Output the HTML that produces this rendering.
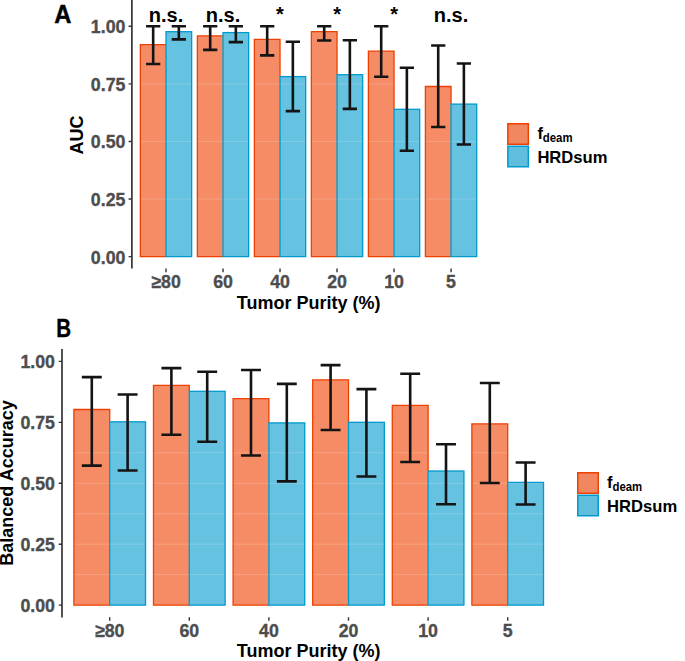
<!DOCTYPE html>
<html><head><meta charset="utf-8"><title>AUC and Balanced Accuracy by Tumor Purity</title>
<style>
html,body{margin:0;padding:0;background:#fff;}
svg{display:block;}
text{font-family:"Liberation Sans",sans-serif;font-weight:bold;}
.tk{font-size:18.5px;fill:#4D4D4D;stroke:#4D4D4D;stroke-width:0.35px;}
.ti{font-size:18px;fill:#000;}
.tag{font-size:25px;fill:#000;stroke:#000;stroke-width:0.4px;}
.lg{font-size:16.6px;fill:#000;}
.sub{font-size:12px;fill:#000;}
.sig{font-size:20px;fill:#000;}
</style></head>
<body>
<svg width="685" height="661" viewBox="0 0 685 661">
<rect x="0" y="0" width="685" height="661" fill="#fff"/>
<rect x="140.35" y="44.70" width="25.65" height="211.90" fill="#F58C66"/>
<rect x="166.00" y="31.70" width="25.65" height="224.90" fill="#66C2E1"/>
<rect x="197.36" y="35.90" width="25.65" height="220.70" fill="#F58C66"/>
<rect x="223.01" y="32.60" width="25.65" height="224.00" fill="#66C2E1"/>
<rect x="254.37" y="39.30" width="25.65" height="217.30" fill="#F58C66"/>
<rect x="280.02" y="76.60" width="25.65" height="180.00" fill="#66C2E1"/>
<rect x="311.38" y="31.70" width="25.65" height="224.90" fill="#F58C66"/>
<rect x="337.03" y="74.70" width="25.65" height="181.90" fill="#66C2E1"/>
<rect x="368.39" y="51.10" width="25.65" height="205.50" fill="#F58C66"/>
<rect x="394.04" y="109.30" width="25.65" height="147.30" fill="#66C2E1"/>
<rect x="425.40" y="86.50" width="25.65" height="170.10" fill="#F58C66"/>
<rect x="451.05" y="104.10" width="25.65" height="152.50" fill="#66C2E1"/>
<g stroke="#ffffff" stroke-opacity="0.18" stroke-width="1"><line x1="132.90" x2="480.00" y1="199.01" y2="199.01" /><line x1="132.90" x2="480.00" y1="141.43" y2="141.43" /><line x1="132.90" x2="480.00" y1="83.84" y2="83.84" /></g>
<path d="M166.00 256.60H140.35V44.70H166.00" fill="none" stroke="#EE4000" stroke-width="1.3"/>
<rect x="166.00" y="31.70" width="25.65" height="224.90" fill="none" stroke="#009ACD" stroke-width="1.3"/>
<path d="M223.01 256.60H197.36V35.90H223.01" fill="none" stroke="#EE4000" stroke-width="1.3"/>
<rect x="223.01" y="32.60" width="25.65" height="224.00" fill="none" stroke="#009ACD" stroke-width="1.3"/>
<path d="M280.02 256.60H254.37V39.30H280.02V76.60" fill="none" stroke="#EE4000" stroke-width="1.3"/>
<rect x="280.02" y="76.60" width="25.65" height="180.00" fill="none" stroke="#009ACD" stroke-width="1.3"/>
<path d="M337.03 256.60H311.38V31.70H337.03V74.70" fill="none" stroke="#EE4000" stroke-width="1.3"/>
<rect x="337.03" y="74.70" width="25.65" height="181.90" fill="none" stroke="#009ACD" stroke-width="1.3"/>
<path d="M394.04 256.60H368.39V51.10H394.04V109.30" fill="none" stroke="#EE4000" stroke-width="1.3"/>
<rect x="394.04" y="109.30" width="25.65" height="147.30" fill="none" stroke="#009ACD" stroke-width="1.3"/>
<path d="M451.05 256.60H425.40V86.50H451.05V104.10" fill="none" stroke="#EE4000" stroke-width="1.3"/>
<rect x="451.05" y="104.10" width="25.65" height="152.50" fill="none" stroke="#009ACD" stroke-width="1.3"/>
<path d="M146.05 26.25H160.30M153.17 26.25V64.05M146.05 64.05H160.30M171.70 26.30H185.95M178.83 26.30V39.40M171.70 39.40H185.95M203.06 26.30H217.31M210.18 26.30V49.90M203.06 49.90H217.31M228.71 26.30H242.96M235.84 26.30V42.10M228.71 42.10H242.96M260.07 26.30H274.32M267.19 26.30V55.40M260.07 55.40H274.32M285.72 41.80H299.97M292.85 41.80V111.10M285.72 111.10H299.97M317.08 26.30H331.33M324.20 26.30V40.50M317.08 40.50H331.33M342.73 40.30H356.98M349.86 40.30V108.90M342.73 108.90H356.98M374.09 26.30H388.34M381.21 26.30V76.70M374.09 76.70H388.34M399.74 67.80H413.99M406.87 67.80V150.80M399.74 150.80H413.99M431.10 45.50H445.35M438.22 45.50V127.00M431.10 127.00H445.35M456.75 63.50H471.00M463.88 63.50V144.50M456.75 144.50H471.00" stroke="#141414" stroke-width="2.6" fill="none"/>
<line x1="131.90" x2="131.90" y1="0.00" y2="268.60" stroke="#1a1a1a" stroke-width="1.5"/>
<path d="M128.60 256.60H131.90M128.60 199.01H131.90M128.60 141.43H131.90M128.60 83.84H131.90M128.60 26.25H131.90M166.00 268.60V272.20M223.01 268.60V272.20M280.02 268.60V272.20M337.03 268.60V272.20M394.04 268.60V272.20M451.05 268.60V272.20" stroke="#333333" stroke-width="1.4"/>
<text transform="translate(125.40 263.50) scale(0.96 1)" text-anchor="end" class="tk">0.00</text>
<text transform="translate(125.40 205.91) scale(0.96 1)" text-anchor="end" class="tk">0.25</text>
<text transform="translate(125.40 148.33) scale(0.96 1)" text-anchor="end" class="tk">0.50</text>
<text transform="translate(125.40 90.74) scale(0.96 1)" text-anchor="end" class="tk">0.75</text>
<text transform="translate(125.40 33.15) scale(0.96 1)" text-anchor="end" class="tk">1.00</text>
<text transform="translate(166.00 288.10) scale(0.96 1)" text-anchor="middle" class="tk">≥80</text>
<text transform="translate(223.01 288.10) scale(0.96 1)" text-anchor="middle" class="tk">60</text>
<text transform="translate(280.02 288.10) scale(0.96 1)" text-anchor="middle" class="tk">40</text>
<text transform="translate(337.03 288.10) scale(0.96 1)" text-anchor="middle" class="tk">20</text>
<text transform="translate(394.04 288.10) scale(0.96 1)" text-anchor="middle" class="tk">10</text>
<text transform="translate(451.05 288.10) scale(0.96 1)" text-anchor="middle" class="tk">5</text>
<text x="308.60" y="309.10" text-anchor="middle" class="ti">Tumor Purity (%)</text>
<text transform="translate(83.00 135.00) rotate(-90)" text-anchor="middle" class="ti">AUC</text>
<text transform="translate(54.30 22.50) scale(0.95 1)" class="tag">A</text>
<rect x="507.85" y="123.75" width="20.50" height="20.50" fill="#F08761" stroke="#EE4000" stroke-width="1.5"/>
<rect x="507.85" y="146.25" width="20.50" height="20.50" fill="#61BDDC" stroke="#009ACD" stroke-width="1.5"/>
<text x="537.40" y="138.50" class="lg">f</text>
<text transform="translate(542.80 141.90) scale(0.95 1)" class="sub">deam</text>
<text x="537.40" y="162.60" class="lg">HRDsum</text>
<text x="166.00" y="22.00" text-anchor="middle" class="sig">n.s.</text>
<text x="223.01" y="22.00" text-anchor="middle" class="sig">n.s.</text>
<text x="280.02" y="21.00" text-anchor="middle" class="sig star">*</text>
<text x="337.03" y="21.00" text-anchor="middle" class="sig star">*</text>
<text x="394.04" y="21.00" text-anchor="middle" class="sig star">*</text>
<text x="451.05" y="22.00" text-anchor="middle" class="sig">n.s.</text>
<rect x="73.88" y="409.50" width="35.82" height="195.60" fill="#F58C66"/>
<rect x="109.70" y="421.80" width="35.82" height="183.30" fill="#66C2E1"/>
<rect x="153.48" y="385.30" width="35.82" height="219.80" fill="#F58C66"/>
<rect x="189.30" y="391.30" width="35.82" height="213.80" fill="#66C2E1"/>
<rect x="233.08" y="398.60" width="35.82" height="206.50" fill="#F58C66"/>
<rect x="268.90" y="422.90" width="35.82" height="182.20" fill="#66C2E1"/>
<rect x="312.68" y="379.80" width="35.82" height="225.30" fill="#F58C66"/>
<rect x="348.50" y="422.30" width="35.82" height="182.80" fill="#66C2E1"/>
<rect x="392.28" y="405.30" width="35.82" height="199.80" fill="#F58C66"/>
<rect x="428.10" y="471.00" width="35.82" height="134.10" fill="#66C2E1"/>
<rect x="471.88" y="423.90" width="35.82" height="181.20" fill="#F58C66"/>
<rect x="507.70" y="482.40" width="35.82" height="122.70" fill="#66C2E1"/>
<g stroke="#ffffff" stroke-opacity="0.18" stroke-width="1"><line x1="63.00" x2="560.00" y1="574.64" y2="574.64" /><line x1="63.00" x2="560.00" y1="544.18" y2="544.18" /><line x1="63.00" x2="560.00" y1="513.71" y2="513.71" /><line x1="63.00" x2="560.00" y1="483.25" y2="483.25" /><line x1="63.00" x2="560.00" y1="452.79" y2="452.79" /></g>
<path d="M109.70 605.10H73.88V409.50H109.70V421.80" fill="none" stroke="#EE4000" stroke-width="1.3"/>
<rect x="109.70" y="421.80" width="35.82" height="183.30" fill="none" stroke="#009ACD" stroke-width="1.3"/>
<path d="M189.30 605.10H153.48V385.30H189.30V391.30" fill="none" stroke="#EE4000" stroke-width="1.3"/>
<rect x="189.30" y="391.30" width="35.82" height="213.80" fill="none" stroke="#009ACD" stroke-width="1.3"/>
<path d="M268.90 605.10H233.08V398.60H268.90V422.90" fill="none" stroke="#EE4000" stroke-width="1.3"/>
<rect x="268.90" y="422.90" width="35.82" height="182.20" fill="none" stroke="#009ACD" stroke-width="1.3"/>
<path d="M348.50 605.10H312.68V379.80H348.50V422.30" fill="none" stroke="#EE4000" stroke-width="1.3"/>
<rect x="348.50" y="422.30" width="35.82" height="182.80" fill="none" stroke="#009ACD" stroke-width="1.3"/>
<path d="M428.10 605.10H392.28V405.30H428.10V471.00" fill="none" stroke="#EE4000" stroke-width="1.3"/>
<rect x="428.10" y="471.00" width="35.82" height="134.10" fill="none" stroke="#009ACD" stroke-width="1.3"/>
<path d="M507.70 605.10H471.88V423.90H507.70V482.40" fill="none" stroke="#EE4000" stroke-width="1.3"/>
<rect x="507.70" y="482.40" width="35.82" height="122.70" fill="none" stroke="#009ACD" stroke-width="1.3"/>
<path d="M81.84 377.10H101.74M91.79 377.10V465.60M81.84 465.60H101.74M117.66 394.50H137.56M127.61 394.50V470.50M117.66 470.50H137.56M161.44 368.10H181.34M171.39 368.10V434.80M161.44 434.80H181.34M197.26 371.70H217.16M207.21 371.70V441.70M197.26 441.70H217.16M241.04 370.00H260.94M250.99 370.00V455.50M241.04 455.50H260.94M276.86 383.90H296.76M286.81 383.90V481.40M276.86 481.40H296.76M320.64 365.10H340.54M330.59 365.10V430.00M320.64 430.00H340.54M356.46 389.10H376.36M366.41 389.10V476.50M356.46 476.50H376.36M400.24 373.80H420.14M410.19 373.80V462.00M400.24 462.00H420.14M436.06 444.30H455.96M446.01 444.30V504.20M436.06 504.20H455.96M479.84 383.00H499.74M489.79 383.00V483.00M479.84 483.00H499.74M515.66 462.50H535.56M525.61 462.50V504.50M515.66 504.50H535.56" stroke="#141414" stroke-width="2.6" fill="none"/>
<line x1="62.00" x2="62.00" y1="349.10" y2="617.50" stroke="#1a1a1a" stroke-width="1.5"/>
<path d="M58.70 605.10H62.00M58.70 544.18H62.00M58.70 483.25H62.00M58.70 422.33H62.00M58.70 361.40H62.00M109.70 617.20V620.80M189.30 617.20V620.80M268.90 617.20V620.80M348.50 617.20V620.80M428.10 617.20V620.80M507.70 617.20V620.80" stroke="#333333" stroke-width="1.4"/>
<text transform="translate(55.00 612.00) scale(0.96 1)" text-anchor="end" class="tk">0.00</text>
<text transform="translate(55.00 551.08) scale(0.96 1)" text-anchor="end" class="tk">0.25</text>
<text transform="translate(55.00 490.15) scale(0.96 1)" text-anchor="end" class="tk">0.50</text>
<text transform="translate(55.00 429.23) scale(0.96 1)" text-anchor="end" class="tk">0.75</text>
<text transform="translate(55.00 368.30) scale(0.96 1)" text-anchor="end" class="tk">1.00</text>
<text transform="translate(109.70 637.00) scale(0.96 1)" text-anchor="middle" class="tk">≥80</text>
<text transform="translate(189.30 637.00) scale(0.96 1)" text-anchor="middle" class="tk">60</text>
<text transform="translate(268.90 637.00) scale(0.96 1)" text-anchor="middle" class="tk">40</text>
<text transform="translate(348.50 637.00) scale(0.96 1)" text-anchor="middle" class="tk">20</text>
<text transform="translate(428.10 637.00) scale(0.96 1)" text-anchor="middle" class="tk">10</text>
<text transform="translate(507.70 637.00) scale(0.96 1)" text-anchor="middle" class="tk">5</text>
<text x="308.60" y="657.00" text-anchor="middle" class="ti">Tumor Purity (%)</text>
<text transform="translate(12.60 483.00) rotate(-90)" text-anchor="middle" class="ti">Balanced Accuracy</text>
<text transform="translate(56.30 337.20) scale(0.82 1)" class="tag">B</text>
<rect x="577.75" y="472.75" width="20.50" height="20.50" fill="#F08761" stroke="#EE4000" stroke-width="1.5"/>
<rect x="577.75" y="495.25" width="20.50" height="20.50" fill="#61BDDC" stroke="#009ACD" stroke-width="1.5"/>
<text x="607.10" y="487.60" class="lg">f</text>
<text transform="translate(612.50 491.00) scale(0.95 1)" class="sub">deam</text>
<text x="607.10" y="511.60" class="lg">HRDsum</text>
</svg>
</body></html>
